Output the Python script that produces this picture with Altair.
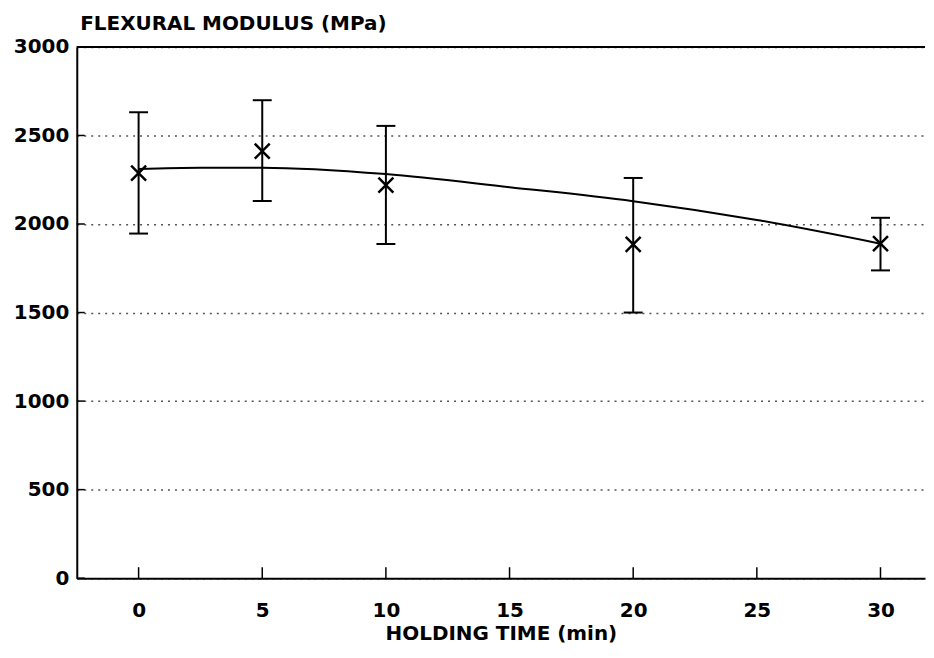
import altair as alt
import pandas as pd

# measured points (holding time, min) and flexural modulus (MPa)
time_pts = [0, 5, 10, 20, 30]
modulus_mean = [2287, 2411, 2219, 1885, 1889]
modulus_upper = [2631, 2699, 2554, 2260, 2035]
modulus_lower = [1946, 2130, 1887, 1500, 1738]

# fitted curve
curve_time = [0, 2.5, 5, 10, 15, 20, 25, 30]
curve_modulus = [2310, 2318, 2318, 2282, 2208, 2129, 2023, 1889]

x_ticks = [0, 5, 10, 15, 20, 25, 30]
y_ticks = [0, 500, 1000, 1500, 2000, 2500, 3000]

X_DOMAIN = [-2.5, 31.8]
Y_DOMAIN = [0, 3000]

pts = pd.DataFrame({"t": time_pts, "m": modulus_mean,
                    "hi": modulus_upper, "lo": modulus_lower})
curve = pd.DataFrame({"t": curve_time, "m": curve_modulus})
xt = pd.DataFrame({"t": x_ticks, "y0": [Y_DOMAIN[0]] * len(x_ticks)})
yt = pd.DataFrame({"v": y_ticks, "x0": [X_DOMAIN[0]] * len(y_ticks)})
top = pd.DataFrame({"y": [Y_DOMAIN[1]]})

FONT = "DejaVu Sans"

xscale = alt.Scale(domain=X_DOMAIN, nice=False, zero=False)
yscale = alt.Scale(domain=Y_DOMAIN, nice=False)

xaxis = alt.Axis(values=x_ticks, title="HOLDING TIME (min)", grid=False,
                 ticks=False, domainColor="black", domainWidth=2, format="d",
                 labelFont=FONT, labelFontSize=20, labelFontWeight="bold",
                 labelColor="black", labelPadding=22, labelFlush=False,
                 titleFont=FONT, titleFontSize=20, titleFontWeight="bold",
                 titleColor="black", titleY=62, titleBaseline="alphabetic")
yaxis = alt.Axis(values=y_ticks, title="FLEXURAL MODULUS (MPa)", grid=True,
                 gridDash=[2, 5], gridColor="#555555", gridWidth=1.5,
                 ticks=False, domainColor="black", domainWidth=2, format="d",
                 labelFont=FONT, labelFontSize=20, labelFontWeight="bold",
                 labelColor="black", labelPadding=8, labelFlush=False,
                 minExtent=62, maxExtent=62,
                 titleFont=FONT, titleFontSize=20, titleFontWeight="bold",
                 titleColor="black", titleAngle=0, titleAlign="left",
                 titleBaseline="alphabetic", titleX=3, titleY=-17)

base_x = alt.X("t:Q", scale=xscale, axis=xaxis)
base_y = alt.Y("m:Q", scale=yscale, axis=yaxis)

line = alt.Chart(curve).mark_line(color="black", strokeWidth=2,
                                  interpolate="monotone").encode(x=base_x, y=base_y)

err = alt.Chart(pts).mark_rule(color="black", strokeWidth=2).encode(
    x="t:Q", y="lo:Q", y2="hi:Q")
cap_hi = alt.Chart(pts).mark_tick(color="black", thickness=2, size=19,
                                  orient="horizontal", opacity=1).encode(x="t:Q", y="hi:Q")
cap_lo = alt.Chart(pts).mark_tick(color="black", thickness=2, size=19,
                                  orient="horizontal", opacity=1).encode(x="t:Q", y="lo:Q")
marks = alt.Chart(pts).mark_point(shape="M-1,-1L1,1M-1,1L1,-1", size=225,
                                  color="black", strokeWidth=2.5,
                                  opacity=1).encode(x="t:Q", y="m:Q")

xticks = alt.Chart(xt).mark_tick(color="black", thickness=1.5, size=11,
                                 orient="vertical", yOffset=-5.5,
                                 opacity=1).encode(x="t:Q", y="y0:Q")
yticks = alt.Chart(yt).mark_tick(color="black", thickness=1.5, size=8,
                                 orient="horizontal", xOffset=4,
                                 opacity=1).encode(x="x0:Q", y="v:Q")
topline = alt.Chart(top).mark_rule(color="black", strokeWidth=2).encode(y="y:Q")

chart = alt.layer(line, err, cap_hi, cap_lo, marks, xticks, yticks, topline).properties(
    width=851, height=533,
    padding={"left": 5, "top": 5, "right": 0, "bottom": 0},
    background="white",
).configure_view(stroke=None)

chart.save("out.html", embed_options={"renderer": "svg", "actions": False})
